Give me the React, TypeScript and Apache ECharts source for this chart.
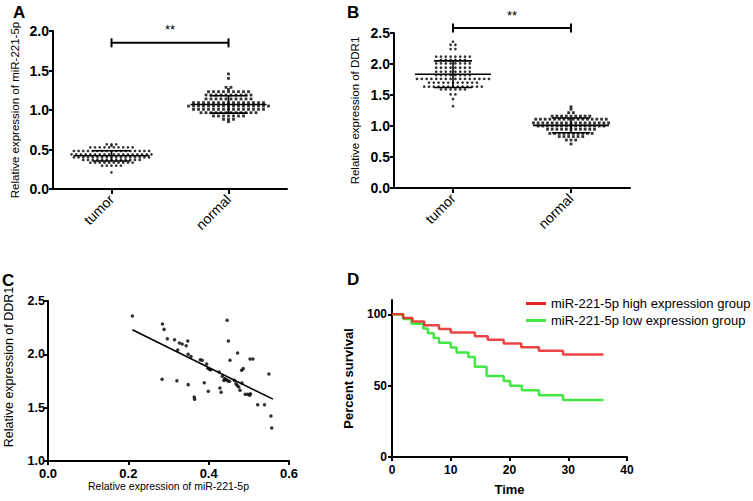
import React, { useEffect, useRef } from 'react';
import * as echarts from 'echarts';

const FONT = "'Liberation Sans', Arial, sans-serif";

// ---------- Panel A / B: categories ----------
const groups = ['tumor', 'normal'];

// Scatter-dot rows: [value, number of dots in that row]
const aTumorRows: [number, number][] = [
  [0.565, 3], [0.549, 1], [0.527, 10], [0.481, 17], [0.439, 18],
  [0.401, 17], [0.367, 13], [0.333, 10], [0.295, 5], [0.211, 1],
];
const aNormalRows: [number, number][] = [
  [1.456, 1], [1.4, 1], [1.287, 2], [1.26, 1], [1.232, 9], [1.19, 10],
  [1.14, 10], [1.093, 15], [1.05, 17], [1.008, 15], [0.966, 12],
  [0.924, 7], [0.882, 3], [0.852, 1],
];
const bTumorRows: [number, number][] = [
  [2.36, 1], [2.31, 2], [2.24, 2], [2.12, 8], [2.065, 6], [2.01, 8],
  [1.94, 8], [1.876, 8], [1.82, 8], [1.76, 16], [1.7, 11], [1.634, 13],
  [1.59, 6], [1.51, 2], [1.435, 1], [1.32, 1],
];
const bNormalRows: [number, number][] = [
  [1.31, 1], [1.27, 1], [1.215, 2], [1.16, 9], [1.11, 16], [1.05, 17],
  [1.0, 15], [0.947, 11], [0.88, 10], [0.83, 6], [0.774, 3], [0.71, 1],
];

// mean and SD: [tumor, normal]
const aMean = [0.42, 1.07];
const aSD = [0.065, 0.11];
const bMean = [1.835, 1.01];
const bSD = [0.215, 0.12];

// significance bracket heights
const aBracket = 1.85;
const bBracket = 2.58;

// ---------- Panel C ----------
const cMir = [
  0.21, 0.285, 0.289, 0.297, 0.284, 0.315, 0.327, 0.334, 0.344, 0.348, 0.323,
  0.349, 0.356, 0.321, 0.349, 0.364, 0.365, 0.379, 0.384, 0.389, 0.395, 0.398,
  0.402, 0.399, 0.405, 0.426, 0.428, 0.431, 0.434, 0.44, 0.438, 0.444, 0.448,
  0.452, 0.446, 0.449, 0.453, 0.464, 0.468, 0.471, 0.472, 0.475, 0.478, 0.482,
  0.486, 0.483, 0.491, 0.497, 0.502, 0.504, 0.503, 0.51, 0.522, 0.539, 0.55,
  0.555, 0.557,
];
const cDdr1 = [
  2.36, 2.284, 2.234, 2.147, 1.766, 2.137, 2.106, 2.097, 2.081, 2.125, 2.04,
  2.0, 1.98, 1.753, 1.716, 1.6, 1.58, 1.95, 1.944, 1.734, 1.91, 1.869,
  1.86, 1.653, 1.856, 1.834, 1.684, 1.644, 1.794, 1.772, 1.756, 1.763, 1.75,
  1.747, 2.319, 2.125, 1.944, 1.756, 1.725, 1.709, 2.013, 1.694, 1.663, 1.85,
  1.866, 1.731, 1.625, 1.625, 1.616, 1.631, 1.956, 1.956, 1.528, 1.528, 1.816,
  1.422, 1.309,
];
const cFitX = [0.21, 0.56];
const cFitY = [2.23, 1.58];

// ---------- Panel D ----------
const highTime = [0, 1.9, 3.5, 5.5, 8.0, 10.0, 14.1, 16.3, 19.0, 22.0, 25.0, 29.1, 36];
const highSurv = [100, 97.4, 94.9, 92.3, 89.7, 87.2, 84.6, 82.1, 79.5, 76.9, 74.4, 71.8, 71.8];
const lowTime = [0, 1.9, 3.3, 5.3, 6.1, 7.1, 8.0, 10.0, 11.0, 13.0, 14.1, 16.1, 19.0, 20.1, 22.1, 25.0, 29.1, 36];
const lowSurv = [100, 96.7, 93.3, 90, 86.7, 83.3, 80, 76.7, 73.3, 70, 63.3, 56.7, 53.3, 50, 46.7, 43.3, 40, 40];

// ---------- helpers (layout only) ----------
function swarm(rows: [number, number][], center: number, step: number): number[][] {
  const out: number[][] = [];
  rows.forEach(([v, n]) => {
    for (let i = 0; i < n; i++) out.push([center + (i - (n - 1) / 2) * step, v]);
  });
  return out;
}

const axisLine = { show: true, lineStyle: { color: '#000', width: 2 } };
const axisTick = { show: true, length: 4, lineStyle: { color: '#000', width: 2 } };
const boldLabel = (size: number, margin: number) => ({
  color: '#000', fontWeight: 'bold' as const, fontSize: size, fontFamily: FONT, margin,
});

function errorBarSeries(xi: number, yi: number, mean: number[], sd: number[]) {
  return {
    type: 'custom', xAxisIndex: xi, yAxisIndex: yi, z: 5, clip: false,
    encode: { x: 0, y: 1 },
    data: [[0.5, mean[0], sd[0]], [1.5, mean[1], sd[1]]],
    renderItem: (_p: any, api: any) => {
      const x = api.value(0), m = api.value(1), s = api.value(2);
      const c = api.coord([x, m]);
      const t = api.coord([x, m + s]);
      const b = api.coord([x, m - s]);
      const st = { stroke: '#000', lineWidth: 1.6 };
      return {
        type: 'group',
        children: [
          { type: 'line', shape: { x1: c[0] - 38, y1: c[1], x2: c[0] + 38, y2: c[1] }, style: st },
          { type: 'line', shape: { x1: t[0], y1: t[1], x2: b[0], y2: b[1] }, style: st },
          { type: 'line', shape: { x1: t[0] - 19, y1: t[1], x2: t[0] + 19, y2: t[1] }, style: st },
          { type: 'line', shape: { x1: b[0] - 19, y1: b[1], x2: b[0] + 19, y2: b[1] }, style: st },
        ],
      };
    },
  };
}

function bracketSeries(xi: number, yi: number, level: number) {
  return {
    type: 'custom', xAxisIndex: xi, yAxisIndex: yi, z: 5, clip: false,
    encode: { x: [0, 1], y: 2 },
    data: [[0.5, 1.5, level]],
    renderItem: (_p: any, api: any) => {
      const p1 = api.coord([api.value(0), api.value(2)]);
      const p2 = api.coord([api.value(1), api.value(2)]);
      const st = { stroke: '#000', lineWidth: 2 };
      return {
        type: 'group',
        children: [
          { type: 'line', shape: { x1: p1[0], y1: p1[1], x2: p2[0], y2: p2[1] }, style: st },
          { type: 'line', shape: { x1: p1[0], y1: p1[1] - 4.5, x2: p1[0], y2: p1[1] + 4.5 }, style: st },
          { type: 'line', shape: { x1: p2[0], y1: p2[1] - 4.5, x2: p2[0], y2: p2[1] + 4.5 }, style: st },
          {
            type: 'text', x: (p1[0] + p2[0]) / 2, y: p1[1] - 13,
            style: { text: '**', font: `13px ${FONT}`, fill: '#000', textAlign: 'center', textVerticalAlign: 'middle' },
          },
        ],
      };
    },
  };
}

function scatterSeries(xi: number, yi: number, data: number[][], symbol: string, size: number) {
  return {
    type: 'scatter', xAxisIndex: xi, yAxisIndex: yi, data, symbol, symbolSize: size,
    itemStyle: { color: '#000' }, z: 3,
  };
}

const catAxis = (grid: number) => ({
  type: 'category', gridIndex: grid, data: groups, boundaryGap: true,
  axisLine, axisTick: { ...axisTick, length: 5, alignWithLabel: true },
  axisLabel: { color: '#000', fontSize: 14, fontFamily: FONT, rotate: 45, margin: 8, interval: 0 },
  splitLine: { show: false },
});
const hiddenX = (grid: number) => ({ type: 'value', gridIndex: grid, min: 0, max: 2, show: false });

export default function App() {
  const ref = useRef<HTMLDivElement>(null);
  useEffect(() => {
    if (!ref.current) return;
    const chart = echarts.init(ref.current, undefined, { renderer: 'svg' });
    const pxA = 234 / 2;
    const pxB = 236 / 2;
    const option: any = {
      animation: false,
      backgroundColor: '#fff',
      textStyle: { fontFamily: FONT },
      grid: [
        { left: 53, top: 31, width: 234, height: 158 },
        { left: 394, top: 33, width: 236, height: 155 },
        { left: 48, top: 301, width: 241, height: 160 },
        { left: 392, top: 300, width: 235, height: 157 },
      ],
      xAxis: [
        catAxis(0), hiddenX(0),
        catAxis(1), hiddenX(1),
        {
          type: 'value', gridIndex: 2, min: 0, max: 0.6, interval: 0.2,
          axisLine, axisTick, splitLine: { show: false },
          axisLabel: { ...boldLabel(13, 6), formatter: (v: number) => v.toFixed(1) },
          name: 'Relative expression of miR-221-5p', nameLocation: 'middle', nameGap: 18,
          nameTextStyle: { color: '#000', fontSize: 10.5, fontFamily: FONT },
        },
        {
          type: 'value', gridIndex: 3, min: 0, max: 40, interval: 10,
          axisLine, axisTick, splitLine: { show: false },
          axisLabel: boldLabel(12, 7),
          name: 'Time', nameLocation: 'middle', nameGap: 26,
          nameTextStyle: { color: '#000', fontSize: 13, fontWeight: 'bold', fontFamily: FONT },
        },
      ],
      yAxis: [
        {
          type: 'value', gridIndex: 0, min: 0, max: 2, interval: 0.5,
          axisLine, axisTick, splitLine: { show: false },
          axisLabel: { ...boldLabel(14, 4), formatter: (v: number) => v.toFixed(1) },
          name: 'Relative expression of miR-221-5p', nameLocation: 'middle', nameGap: 32,
          nameTextStyle: { color: '#000', fontSize: 11.5, fontFamily: FONT },
        },
        {
          type: 'value', gridIndex: 1, min: 0, max: 2.5, interval: 0.5,
          axisLine, axisTick, splitLine: { show: false },
          axisLabel: { ...boldLabel(14, 4), formatter: (v: number) => v.toFixed(1) },
          name: 'Relative expression of DDR1', nameLocation: 'middle', nameGap: 33,
          nameTextStyle: { color: '#000', fontSize: 11.5, fontFamily: FONT },
        },
        {
          type: 'value', gridIndex: 2, min: 1, max: 2.5, interval: 0.5,
          axisLine, axisTick, splitLine: { show: false },
          axisLabel: { ...boldLabel(12.5, 3), formatter: (v: number) => v.toFixed(1) },
        },
        {
          type: 'value', gridIndex: 3, min: 0, max: 110,
          axisLine, splitLine: { show: false },
          axisTick: { ...axisTick, customValues: [0, 50, 100] },
          axisLabel: { ...boldLabel(12, 5), customValues: [0, 50, 100] },
          name: 'Percent survival', nameLocation: 'middle', nameGap: 37,
          nameTextStyle: { color: '#000', fontSize: 13, fontWeight: 'bold', fontFamily: FONT },
        },
      ],
      legend: {
        data: ['miR-221-5p high expression group', 'miR-221-5p low expression group'],
        orient: 'vertical', left: 521, top: 292, icon: 'rect', itemWidth: 20, itemHeight: 3,
        itemGap: 4, textStyle: { color: '#000', fontSize: 13, fontFamily: FONT },
      },
      graphic: [
        { type: 'text', x: 13, y: 12, style: { text: 'A', font: `bold 17px ${FONT}`, fill: '#000', textVerticalAlign: 'middle' } },
        { type: 'text', x: 347, y: 12, style: { text: 'B', font: `bold 17px ${FONT}`, fill: '#000', textVerticalAlign: 'middle' } },
        { type: 'text', x: 2, y: 280, style: { text: 'C', font: `bold 17px ${FONT}`, fill: '#000', textVerticalAlign: 'middle' } },
        { type: 'text', x: 347, y: 279, style: { text: 'D', font: `bold 17px ${FONT}`, fill: '#000', textVerticalAlign: 'middle' } },
        {
          type: 'text', x: 9, y: 367, rotation: Math.PI / 2,
          style: { text: 'Relative expression of DDR1', font: `12.5px ${FONT}`, fill: '#000', textAlign: 'center', textVerticalAlign: 'middle' },
        },
      ],
      series: [
        scatterSeries(1, 0, swarm(aTumorRows, 0.5, 4.7 / pxA), 'circle', 2.7),
        scatterSeries(1, 0, swarm(aNormalRows, 1.5, 5.0 / pxA), 'rect', 2.8),
        errorBarSeries(1, 0, aMean, aSD),
        bracketSeries(1, 0, aBracket),
        scatterSeries(3, 1, swarm(bTumorRows, 0.5, 4.8 / pxB), 'circle', 2.7),
        scatterSeries(3, 1, swarm(bNormalRows, 1.5, 4.7 / pxB), 'rect', 2.8),
        errorBarSeries(3, 1, bMean, bSD),
        bracketSeries(3, 1, bBracket),
        scatterSeries(4, 2, cMir.map((x, i) => [x, cDdr1[i]]), 'circle', 3.5),
        {
          type: 'line', xAxisIndex: 4, yAxisIndex: 2, showSymbol: false,
          data: cFitX.map((x, i) => [x, cFitY[i]]),
          lineStyle: { color: '#000', width: 1.6 }, z: 4,
        },
        {
          name: 'miR-221-5p low expression group',
          type: 'line', xAxisIndex: 5, yAxisIndex: 3, step: 'end', showSymbol: false,
          data: lowTime.map((t, i) => [t, lowSurv[i]]),
          lineStyle: { color: '#44e844', width: 2.5 }, itemStyle: { color: '#44e844' },
        },
        {
          name: 'miR-221-5p high expression group',
          type: 'line', xAxisIndex: 5, yAxisIndex: 3, step: 'end', showSymbol: false,
          data: highTime.map((t, i) => [t, highSurv[i]]),
          lineStyle: { color: '#e82323', width: 2.5, opacity: 0.85 }, itemStyle: { color: '#e82323' },
        },
      ],
    };
    chart.setOption(option);
    return () => chart.dispose();
  }, []);
  return <div ref={ref} style={{ width: 753, height: 501, position: 'absolute', left: 0, top: 0 }} />;
}
